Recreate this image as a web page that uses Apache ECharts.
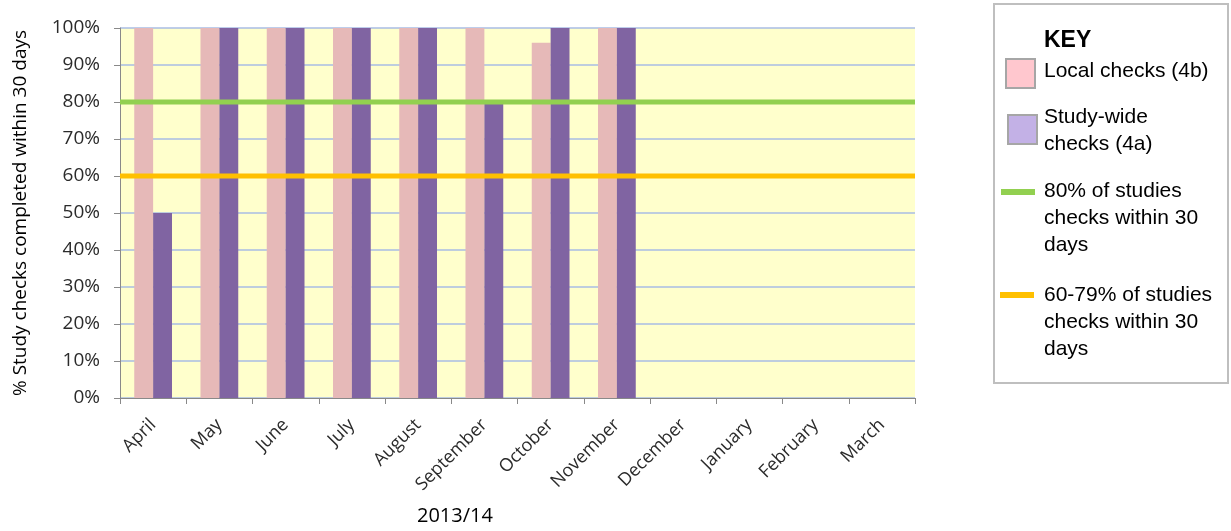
<!DOCTYPE html>
<html>
<head>
<meta charset="utf-8">
<script src="https://cdn.jsdelivr.net/npm/echarts@6/dist/echarts.min.js"></script>
<style>
  html, body { margin: 0; padding: 0; background: #ffffff; }
  #chart { width: 1231px; height: 531px; }
</style>
</head>
<body>
<div id="chart"></div>
<script>
// Monthly study checks completed within 30 days, 2013/14
const months = ['April', 'May', 'June', 'July', 'August', 'September',
  'October', 'November', 'December', 'January', 'February', 'March'];
const localChecks = [100, 100, 100, 100, 100, 100, 96, 100, null, null, null, null];
const studyWideChecks = [50, 100, 100, 100, 100, 80, 100, 100, null, null, null, null];
const target80 = [80, 80, 80, 80, 80, 80, 80, 80, 80, 80, 80, 80];
const target60 = [60, 60, 60, 60, 60, 60, 60, 60, 60, 60, 60, 60];
const yTicks = [0, 10, 20, 30, 40, 50, 60, 70, 80, 90, 100];

const keyFont = '"Liberation Sans", Arial, sans-serif';
const axisFont = '"Open Sans", "Noto Sans", sans-serif';

const chart = echarts.init(document.getElementById('chart'), null, { renderer: 'canvas' });

function keyText(x, y, text, bold, size) {
  return {
    type: 'text', left: x, top: y,
    style: { text: text, font: (bold ? 'bold ' : '') + size + 'px ' + keyFont,
      fill: '#000000', textVerticalAlign: 'top' }
  };
}

chart.setOption({
  animation: false,
  backgroundColor: '#ffffff',
  grid: {
    left: 120, right: 316, top: 28, bottom: 133,
    show: true, backgroundColor: '#FFFFCC', borderWidth: 0
  },
  xAxis: [{
    type: 'category',
    data: months,
    boundaryGap: true,
    axisLine: { show: true, lineStyle: { color: '#898989', width: 1 } },
    axisTick: { show: true, length: 6, lineStyle: { color: '#898989' } },
    axisLabel: {
      rotate: 45, color: '#2b2b2b', fontFamily: axisFont, fontSize: 18,
      margin: 24, interval: 0
    },
    splitLine: { show: false }
  }, {
    type: 'category',
    data: months,
    boundaryGap: false,
    show: false
  }],
  yAxis: {
    type: 'value',
    min: yTicks[0], max: yTicks[yTicks.length - 1], interval: 10,
    name: '% Study checks completed within 30 days',
    nameLocation: 'middle', nameRotate: 90, nameGap: 90,
    nameTextStyle: { color: '#000000', fontFamily: axisFont, fontSize: 19 },
    axisLine: { show: true, lineStyle: { color: '#898989', width: 1 } },
    axisTick: { show: true, length: 6, lineStyle: { color: '#898989' } },
    axisLabel: {
      formatter: '{value}%', color: '#2b2b2b', fontFamily: axisFont,
      fontSize: 19, margin: 20
    },
    splitLine: { show: true, lineStyle: { color: '#A8BDE4', width: 1.5 } }
  },
  series: [{
    name: 'Local checks (4b)',
    type: 'bar',
    data: localChecks,
    barGap: '0%',
    barCategoryGap: '43%',
    itemStyle: { color: '#E6B9B8' },
    z: 2
  }, {
    name: 'Study-wide checks (4a)',
    type: 'bar',
    data: studyWideChecks,
    itemStyle: { color: '#8064A2' },
    z: 2
  }, {
    name: '80% of studies checks within 30 days',
    type: 'line',
    xAxisIndex: 1,
    data: target80,
    symbol: 'none',
    lineStyle: { color: '#92D050', width: 5 },
    z: 3
  }, {
    name: '60-79% of studies checks within 30 days',
    type: 'line',
    xAxisIndex: 1,
    data: target60,
    symbol: 'none',
    lineStyle: { color: '#FFC000', width: 5 },
    z: 3
  }],
  graphic: [
    {
      type: 'text', left: 417, top: 506,
      style: { text: '2013/14', font: '20px ' + axisFont, fill: '#000000' }
    },
    {
      type: 'rect', shape: { x: 994, y: 4, width: 234, height: 379 },
      style: { fill: '#ffffff', stroke: '#BFBFBF', lineWidth: 2 }
    },
    keyText(1044, 29, 'KEY', true, 23),
    {
      type: 'rect', shape: { x: 1006, y: 59, width: 29, height: 29 },
      style: { fill: '#FFC7CE', stroke: '#A6A6A6', lineWidth: 2 }
    },
    keyText(1044, 61, 'Local checks (4b)', false, 21),
    {
      type: 'rect', shape: { x: 1008, y: 115, width: 29, height: 29 },
      style: { fill: '#C3B1E6', stroke: '#A6A6A6', lineWidth: 2 }
    },
    keyText(1044, 107, 'Study-wide', false, 21),
    keyText(1044, 134, 'checks (4a)', false, 21),
    {
      type: 'line', shape: { x1: 1001, y1: 192, x2: 1035, y2: 192 },
      style: { stroke: '#92D050', lineWidth: 6 }
    },
    keyText(1044, 181, '80% of studies', false, 21),
    keyText(1044, 208, 'checks within 30', false, 21),
    keyText(1044, 235, 'days', false, 21),
    {
      type: 'line', shape: { x1: 1000, y1: 295, x2: 1034, y2: 295 },
      style: { stroke: '#FFC000', lineWidth: 6 }
    },
    keyText(1044, 285, '60-79% of studies', false, 21),
    keyText(1044, 312, 'checks within 30', false, 21),
    keyText(1044, 339, 'days', false, 21)
  ]
});
</script>
</body>
</html>
